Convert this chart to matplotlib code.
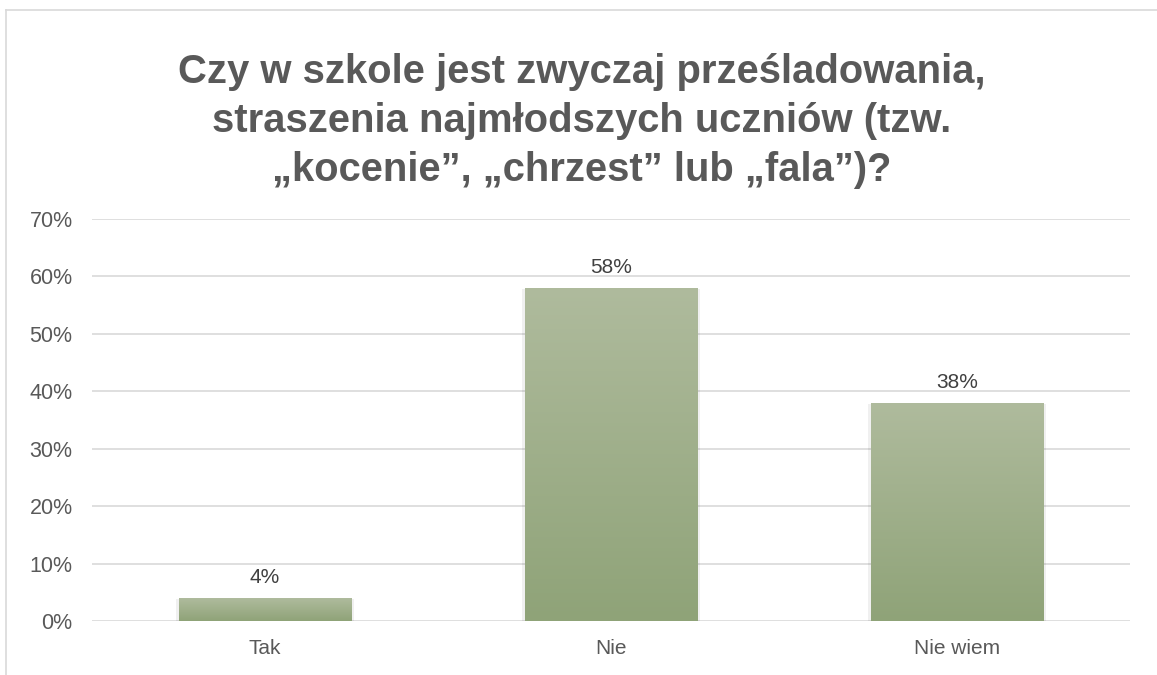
import numpy as np
import matplotlib.pyplot as plt
from matplotlib.colors import LinearSegmentedColormap
from matplotlib.lines import Line2D

categories = ["Tak", "Nie", "Nie wiem"]
values = [4, 58, 38]
yticks = [0, 10, 20, 30, 40, 50, 60, 70]
title = "Czy w szkole jest zwyczaj prześladowania,\nstraszenia najmłodszych uczniów (tzw.\n„kocenie”, „chrzest” lub „fala”)?"

plt.rcParams['font.family'] = ['Liberation Sans', 'DejaVu Sans']

fig = plt.figure(figsize=(11.57, 6.75), dpi=100)
ax = fig.add_axes([92 / 1157, 1 - 621 / 675, (1130 - 92) / 1157, (621 - 219) / 675])

x = np.arange(len(categories))
bars = ax.bar(x, values, width=0.5, color="none", zorder=3)

cmap = LinearSegmentedColormap.from_list("g", ["#8fa378", "#afbb9d"])
grad = np.linspace(0, 1, 256).reshape(-1, 1)
for b in bars:
    x0, w, h = b.get_x(), b.get_width(), b.get_height()
    # soft shadow
    ax.bar(x0 + w / 2, h + 0.3, width=w + 0.014, bottom=-0.5, color="#000000", alpha=0.06, zorder=2)
    im = ax.imshow(grad, cmap=cmap, origin="lower", aspect="auto",
                   extent=[x0, x0 + w, 0, h], zorder=3)
    im.set_clip_path(b)
    ax.text(x0 + w / 2, h + 1.9, f"{h}%", ha="center", va="bottom",
            fontsize=15, color="#404040")

ax.set_xlim(-0.5, len(categories) - 0.5)
ax.set_ylim(0, 70)
ax.set_yticks(yticks)
ax.set_yticklabels([f"{t}%" for t in yticks], fontsize=15.5, color="#595959")
ax.set_xticks(x)
ax.set_xticklabels(categories, fontsize=15, color="#595959")
ax.tick_params(axis="both", length=0)
ax.tick_params(axis="y", pad=14)
ax.tick_params(axis="x", pad=13)
ax.grid(axis="y", color="#d9d9d9", linewidth=1.2, zorder=0)
ax.set_axisbelow(True)
for s in ax.spines.values():
    s.set_visible(False)

fig.text(582 / 1157, 1 - 121 / 675, title, ha="center", va="center",
         fontsize=28.8, fontweight="bold", color="#595959", linespacing=1.36)

# chart frame (left and top edges)
fig.add_artist(Line2D([6 / 1157, 6 / 1157], [0, 1 - 10 / 675], transform=fig.transFigure,
                      color="#d9d9d9", linewidth=1.2))
fig.add_artist(Line2D([6 / 1157, 1], [1 - 10 / 675, 1 - 10 / 675], transform=fig.transFigure,
                      color="#d9d9d9", linewidth=1.2))

fig.savefig("out.png", dpi=100, facecolor="white")
